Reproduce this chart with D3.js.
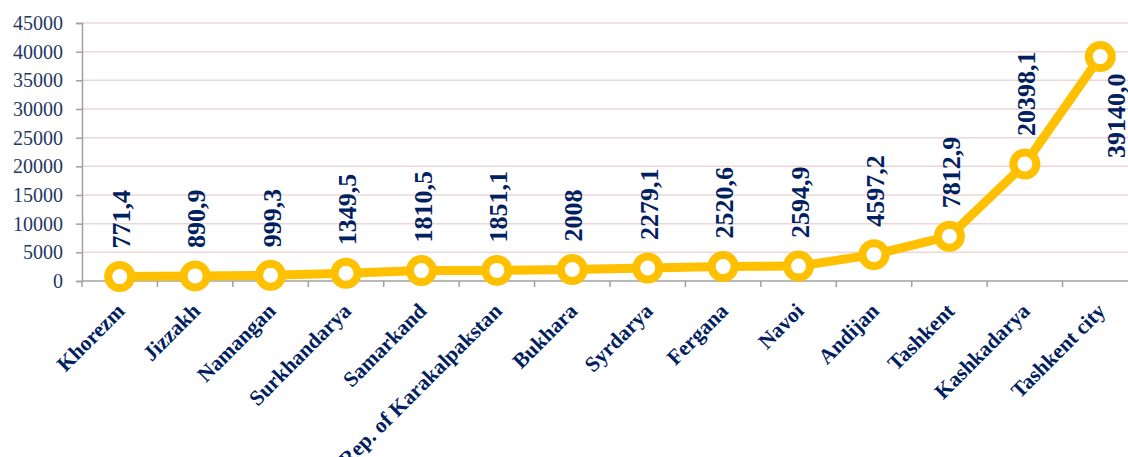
<!DOCTYPE html>
<html>
<head>
<meta charset="utf-8">
<script src="https://cdn.jsdelivr.net/npm/d3@7"></script>
<style>
  html, body { margin: 0; padding: 0; background: #fff; }
  svg { display: block; }
</style>
</head>
<body>
<svg id="chart" width="1128" height="457"></svg>
<script>
// Regions ordered by value
const regions = ["Khorezm", "Jizzakh", "Namangan", "Surkhandarya", "Samarkand",
  "Rep. of Karakalpakstan", "Bukhara", "Syrdarya", "Fergana", "Navoi",
  "Andijan", "Tashkent", "Kashkadarya", "Tashkent city"];
const values = [771.4, 890.9, 999.3, 1349.5, 1810.5, 1851.1, 2008, 2279.1,
  2520.6, 2594.9, 4597.2, 7812.9, 20398.1, 39140.0];
const valueLabels = ["771,4", "890,9", "999,3", "1349,5", "1810,5", "1851,1", "2008",
  "2279,1", "2520,6", "2594,9", "4597,2", "7812,9", "20398,1", "39140,0"];
const yTicks = [0, 5000, 10000, 15000, 20000, 25000, 30000, 35000, 40000, 45000];

const svg = d3.select("#chart");
const plotLeft = 82, plotRight = 1138, plotTop = 23, plotBottom = 281;

const x = d3.scaleBand().domain(regions).range([plotLeft, plotRight]);
const y = d3.scaleLinear().domain([0, 45000]).range([plotBottom, plotTop]);

const serif = "'Liberation Serif', 'Times New Roman', serif";
const navy = "#002060";

// Horizontal gridlines
svg.append("g")
  .selectAll("line")
  .data(yTicks.filter(d => d > 0))
  .join("line")
  .attr("x1", plotLeft).attr("x2", 1128)
  .attr("y1", d => y(d)).attr("y2", d => y(d))
  .attr("stroke", "#eed6d8").attr("stroke-width", 1.5);

// Y axis
const yAxis = svg.append("g")
  .attr("transform", `translate(${plotLeft},0)`)
  .call(d3.axisLeft(y).tickValues(yTicks).tickSize(6).tickPadding(13).tickFormat(d3.format("d")));
yAxis.select(".domain").attr("stroke", "#a0a0a0").attr("stroke-width", 1.5);
yAxis.selectAll(".tick line").attr("stroke", "#a0a0a0").attr("stroke-width", 1.5);
yAxis.selectAll(".tick text")
  .attr("font-family", serif).attr("font-size", 20).attr("fill", "#1f3864");

// X axis with ticks at band boundaries
const xAxisG = svg.append("g").attr("transform", `translate(0,${plotBottom})`);
xAxisG.append("line")
  .attr("x1", plotLeft).attr("x2", 1128).attr("y1", 0).attr("y2", 0)
  .attr("stroke", "#a0a0a0").attr("stroke-width", 1.5);
xAxisG.selectAll("line.tk")
  .data(regions)
  .join("line")
  .attr("class", "tk")
  .attr("x1", d => x(d)).attr("x2", d => x(d))
  .attr("y1", 0).attr("y2", 6)
  .attr("stroke", "#a0a0a0").attr("stroke-width", 1.5);

// Category labels, rotated
svg.append("g")
  .selectAll("text")
  .data(regions)
  .join("text")
  .attr("transform", d => `translate(${x(d) + x.bandwidth() / 2 + 1},${plotBottom + 26}) rotate(-45)`)
  .attr("text-anchor", "end")
  .attr("dy", "0.35em")
  .attr("font-family", serif).attr("font-weight", "bold")
  .attr("font-size", 21.5).attr("fill", navy)
  .text(d => d);

// Line
const cx = (d, i) => x(regions[i]) + x.bandwidth() / 2;
const line = d3.line().x((d, i) => cx(d, i)).y(d => y(d));
svg.append("path")
  .datum(values)
  .attr("d", line)
  .attr("fill", "none")
  .attr("stroke", "#ffc000").attr("stroke-width", 9)
  .attr("stroke-linejoin", "round");

// Markers
svg.append("g")
  .selectAll("circle")
  .data(values)
  .join("circle")
  .attr("cx", (d, i) => cx(d, i))
  .attr("cy", d => y(d))
  .attr("r", 11.5)
  .attr("fill", "#fff")
  .attr("stroke", "#ffc000").attr("stroke-width", 8);

// Value labels, vertical
const last = values.length - 1;
svg.append("g")
  .selectAll("text")
  .data(values)
  .join("text")
  .attr("transform", (d, i) => i === last
    ? `translate(${cx(d, i) + 16},${y(d) + 17}) rotate(-90)`
    : `translate(${cx(d, i) + 1},${y(d) - 28}) rotate(-90)`)
  .attr("text-anchor", (d, i) => i === last ? "end" : "start")
  .attr("dy", "0.35em")
  .attr("font-family", serif).attr("font-weight", "bold")
  .attr("font-size", 26).attr("fill", navy)
  .text((d, i) => valueLabels[i]);
</script>
</body>
</html>
